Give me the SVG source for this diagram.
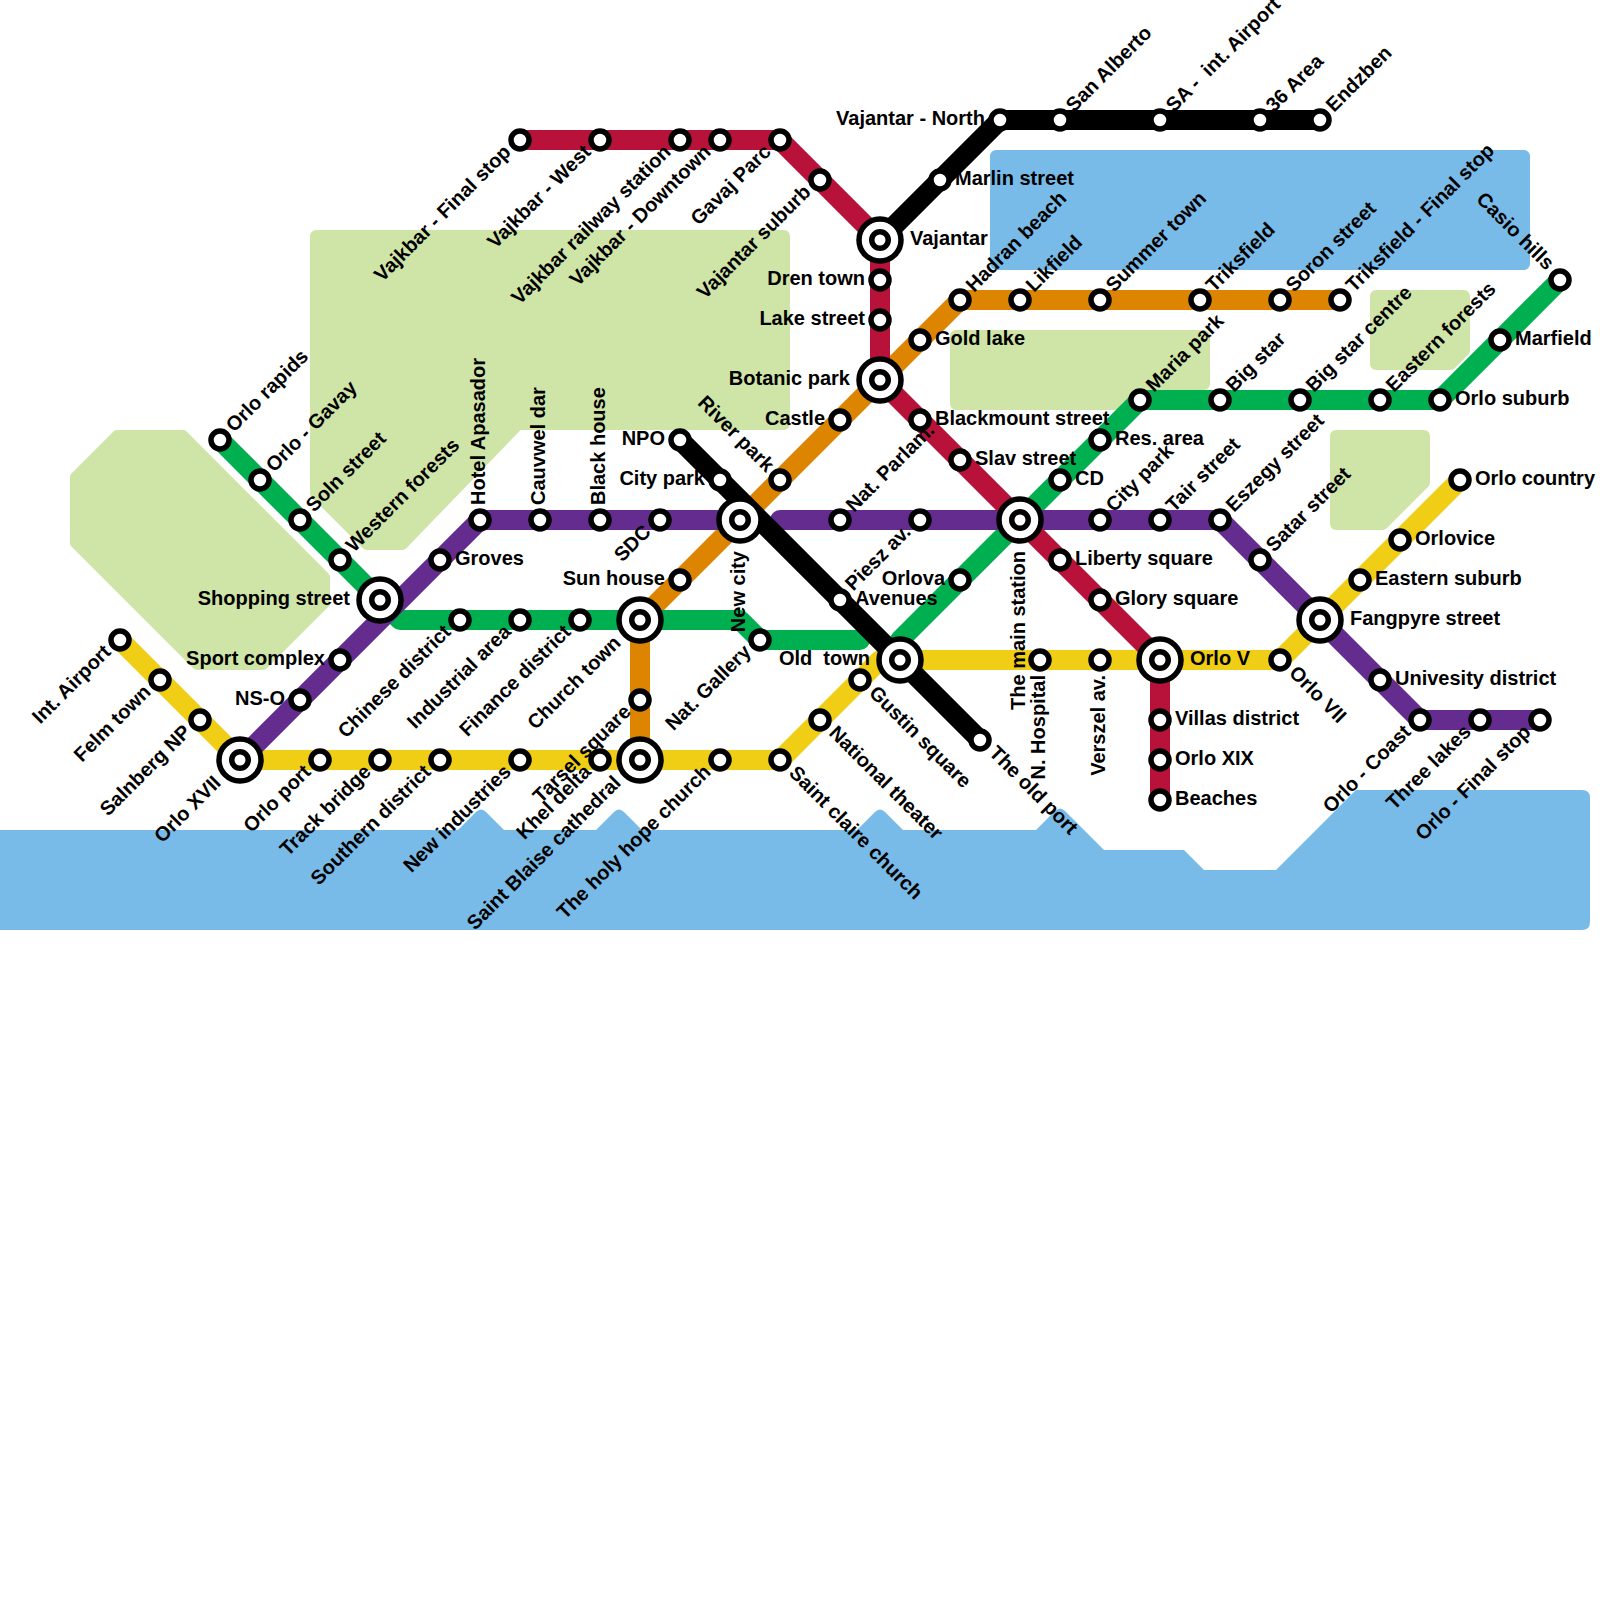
<svg xmlns="http://www.w3.org/2000/svg" width="1600" height="1600" viewBox="0 0 1600 1600">
<style>
.park{fill:#cfe4a7;stroke:#cfe4a7;stroke-width:12;stroke-linejoin:round}
.park2{fill:#cfe4a7;stroke:#cfe4a7;stroke-width:10;stroke-linejoin:round}
.water{fill:#78bbe8;stroke:#78bbe8;stroke-width:12;stroke-linejoin:round}
.water2{fill:#78bbe8}
.l{fill:none;stroke-width:20;stroke-linecap:round;stroke-linejoin:round}
.s{fill:#fff;stroke:#000;stroke-width:5.5}
text{font-family:"Liberation Sans",Arial,sans-serif;font-size:20px;font-weight:bold;fill:#000;white-space:pre}
.e{text-anchor:end}
</style>
<rect width="1600" height="1600" fill="#fff"/>
<g id="background">
<polygon class="park2" points="75,477 117,435 183,435 325,577 325,603 263,665 197,665 75,543"/>
<polygon class="park" points="316,236 784,236 784,424 518,424 402,544 367,544 316,493"/>
<polygon class="park" points="956,336 1204,336 1204,384 1148,384 1128,404 956,404"/>
<polygon class="park" points="1376,296 1464,296 1464,350.5 1450.5,364 1376,364"/>
<polygon class="park" points="1336,436 1424,436 1424,482.5 1382.5,524 1336,524"/>
<rect class="water" x="996" y="156" width="528" height="108"/>
<path class="water2" d="M0,830H458L476,812Q481,807 486,812L504,830H596L614,812Q619,807 624,812L642,830H857L875,812Q880,807 885,812L903,830H1036L1055,811Q1060,806 1065,811L1104,850H1184L1204,870H1276L1356,790H1582Q1590,790 1590,798V922Q1590,930 1582,930H0Z"/>
</g>
<g id="connectors">
<path class="l" stroke="#dd8500" d="M1340,300H960L640,620V760"/>
<path class="l" stroke="#f0ce15" d="M120,640L240,760H780L880,660H1280L1460,480"/>
<path class="l" stroke="#00b050" d="M220,440L400,620H740L760,640H860M900,640L1140,400H1440L1560,280"/>
<path class="l" stroke="#652c90" d="M240,760L480,520H740M780,520H1220L1420,720H1540"/>
<path class="l" stroke="#b9123a" d="M520,140H780L880,240V380L1160,660V800"/>
<path class="l" stroke="#000" d="M880,240L1000,120H1320M680,440L980,740"/>
</g>
<g id="stations">
<g id="n-int-airport"><circle class="s" cx="120" cy="640" r="9"/><text class="e" transform="translate(112,653) rotate(-45)">Int. Airport</text></g>
<g id="n-felm-town"><circle class="s" cx="160" cy="680" r="9"/><text class="e" transform="translate(152,693) rotate(-45)">Felm town</text></g>
<g id="n-salnberg-np"><circle class="s" cx="200" cy="720" r="9"/><text class="e" transform="translate(192,733) rotate(-45)">Salnberg NP</text></g>
<g id="n-orlo-xvii"><circle class="s" cx="240" cy="760" r="21"/><circle class="s" cx="240" cy="760" r="8.25"/><text class="e" transform="translate(222,784) rotate(-45)">Orlo XVII</text></g>
<g id="n-orlo-port"><circle class="s" cx="320" cy="760" r="9"/><text class="e" transform="translate(312,773) rotate(-45)">Orlo port</text></g>
<g id="n-track-bridge"><circle class="s" cx="380" cy="760" r="9"/><text class="e" transform="translate(372,773) rotate(-45)">Track bridge</text></g>
<g id="n-southern-district"><circle class="s" cx="440" cy="760" r="9"/><text class="e" transform="translate(432,773) rotate(-45)">Southern district</text></g>
<g id="n-new-industries"><circle class="s" cx="520" cy="760" r="9"/><text class="e" transform="translate(512,773) rotate(-45)">New industries</text></g>
<g id="n-khel-delta"><circle class="s" cx="600" cy="760" r="9"/><text class="e" transform="translate(592,773) rotate(-45)">Khel delta</text></g>
<g id="n-saint-blaise"><circle class="s" cx="640" cy="760" r="21"/><circle class="s" cx="640" cy="760" r="8.25"/><text class="e" transform="translate(622,784) rotate(-45)">Saint Blaise cathedral</text></g>
<g id="n-holy-hope"><circle class="s" cx="720" cy="760" r="9"/><text class="e" transform="translate(712,773) rotate(-45)">The holy hope church</text></g>
<g id="n-saint-claire"><circle class="s" cx="780" cy="760" r="9"/><text transform="translate(788,774) rotate(45)">Saint claire church</text></g>
<g id="n-national-theater"><circle class="s" cx="820" cy="720" r="9"/><text transform="translate(828,734) rotate(45)">National theater</text></g>
<g id="n-gustin-square"><circle class="s" cx="860" cy="680" r="9"/><text transform="translate(868,694) rotate(45)">Gustin square</text></g>
<g id="n-old-town"><circle class="s" cx="900" cy="660" r="21"/><circle class="s" cx="900" cy="660" r="8.25"/><text class="e" x="870" y="665">Old  town</text></g>
<g id="n-n-hospital"><circle class="s" cx="1040" cy="660" r="9"/><text class="e" transform="translate(1045,675) rotate(-90)">N. Hospital</text></g>
<g id="n-verszel-av"><circle class="s" cx="1100" cy="660" r="9"/><text class="e" transform="translate(1105,675) rotate(-90)">Verszel av.</text></g>
<g id="n-orlo-v"><circle class="s" cx="1160" cy="660" r="21"/><circle class="s" cx="1160" cy="660" r="8.25"/><text x="1190" y="665">Orlo V</text></g>
<g id="n-orlo-vii"><circle class="s" cx="1280" cy="660" r="9"/><text transform="translate(1288,674) rotate(45)">Orlo VII</text></g>
<g id="n-fangpyre"><circle class="s" cx="1320" cy="620" r="21"/><circle class="s" cx="1320" cy="620" r="8.25"/><text x="1350" y="625">Fangpyre street</text></g>
<g id="n-eastern-suburb"><circle class="s" cx="1360" cy="580" r="9"/><text x="1375" y="585">Eastern suburb</text></g>
<g id="n-orlovice"><circle class="s" cx="1400" cy="540" r="9"/><text x="1415" y="545">Orlovice</text></g>
<g id="n-orlo-country"><circle class="s" cx="1460" cy="480" r="9"/><text x="1475" y="485">Orlo country</text></g>
<g id="n-ns-o"><circle class="s" cx="300" cy="700" r="9"/><text class="e" x="285" y="705">NS-O</text></g>
<g id="n-sport-complex"><circle class="s" cx="340" cy="660" r="9"/><text class="e" x="325" y="665">Sport complex</text></g>
<g id="n-shopping-street"><circle class="s" cx="380" cy="600" r="21"/><circle class="s" cx="380" cy="600" r="8.25"/><text class="e" x="350" y="605">Shopping street</text></g>
<g id="n-groves"><circle class="s" cx="440" cy="560" r="9"/><text x="455" y="565">Groves</text></g>
<g id="n-hotel-apasador"><circle class="s" cx="480" cy="520" r="9"/><text transform="translate(485,505) rotate(-90)">Hotel Apasador</text></g>
<g id="n-cauvwel-dar"><circle class="s" cx="540" cy="520" r="9"/><text transform="translate(545,505) rotate(-90)">Cauvwel dar</text></g>
<g id="n-black-house"><circle class="s" cx="600" cy="520" r="9"/><text transform="translate(605,505) rotate(-90)">Black house</text></g>
<g id="n-sdc"><circle class="s" cx="660" cy="520" r="9"/><text class="e" transform="translate(652,533) rotate(-45)">SDC</text></g>
<g id="n-new-city"><circle class="s" cx="740" cy="520" r="21"/><circle class="s" cx="740" cy="520" r="8.25"/><text class="e" transform="translate(745,551) rotate(-90)">New city</text></g>
<g id="n-nat-parlam"><circle class="s" cx="840" cy="520" r="9"/><text transform="translate(854,513) rotate(-45)">Nat. Parlam.</text></g>
<g id="n-piesz-av"><circle class="s" cx="920" cy="520" r="9"/><text class="e" transform="translate(912,533) rotate(-45)">Piesz av.</text></g>
<g id="n-main-station"><circle class="s" cx="1020" cy="520" r="21"/><circle class="s" cx="1020" cy="520" r="8.25"/><text class="e" transform="translate(1025,551) rotate(-90)">The main station</text></g>
<g id="n-city-park-2"><circle class="s" cx="1100" cy="520" r="9"/><text transform="translate(1114,513) rotate(-45)">City park</text></g>
<g id="n-tair-street"><circle class="s" cx="1160" cy="520" r="9"/><text transform="translate(1174,513) rotate(-45)">Tair street</text></g>
<g id="n-eszegy-street"><circle class="s" cx="1220" cy="520" r="9"/><text transform="translate(1234,513) rotate(-45)">Eszegy street</text></g>
<g id="n-satar-street"><circle class="s" cx="1260" cy="560" r="9"/><text transform="translate(1274,553) rotate(-45)">Satar street</text></g>
<g id="n-univesity"><circle class="s" cx="1380" cy="680" r="9"/><text x="1395" y="685">Univesity district</text></g>
<g id="n-orlo-coast"><circle class="s" cx="1420" cy="720" r="9"/><text class="e" transform="translate(1412,733) rotate(-45)">Orlo - Coast</text></g>
<g id="n-three-lakes"><circle class="s" cx="1480" cy="720" r="9"/><text class="e" transform="translate(1472,733) rotate(-45)">Three lakes</text></g>
<g id="n-orlo-final"><circle class="s" cx="1540" cy="720" r="9"/><text class="e" transform="translate(1532,733) rotate(-45)">Orlo - Final stop</text></g>
<g id="n-orlo-rapids"><circle class="s" cx="220" cy="440" r="9"/><text transform="translate(234,433) rotate(-45)">Orlo rapids</text></g>
<g id="n-orlo-gavay"><circle class="s" cx="260" cy="480" r="9"/><text transform="translate(274,473) rotate(-45)">Orlo - Gavay</text></g>
<g id="n-soln-street"><circle class="s" cx="300" cy="520" r="9"/><text transform="translate(314,513) rotate(-45)">Soln street</text></g>
<g id="n-western-forests"><circle class="s" cx="340" cy="560" r="9"/><text transform="translate(354,553) rotate(-45)">Western forests</text></g>
<g id="n-chinese-district"><circle class="s" cx="460" cy="620" r="9"/><text class="e" transform="translate(452,633) rotate(-45)">Chinese district</text></g>
<g id="n-industrial-area"><circle class="s" cx="520" cy="620" r="9"/><text class="e" transform="translate(512,633) rotate(-45)">Industrial area</text></g>
<g id="n-finance-district"><circle class="s" cx="580" cy="620" r="9"/><text class="e" transform="translate(572,633) rotate(-45)">Finance district</text></g>
<g id="n-church-town"><circle class="s" cx="640" cy="620" r="21"/><circle class="s" cx="640" cy="620" r="8.25"/><text class="e" transform="translate(622,644) rotate(-45)">Church town</text></g>
<g id="n-nat-gallery"><circle class="s" cx="760" cy="640" r="9"/><text class="e" transform="translate(752,653) rotate(-45)">Nat. Gallery</text></g>
<g id="n-orlova"><circle class="s" cx="960" cy="580" r="9"/><text class="e" x="945" y="585">Orlova</text></g>
<g id="n-cd"><circle class="s" cx="1060" cy="480" r="9"/><text x="1075" y="485">CD</text></g>
<g id="n-res-area"><circle class="s" cx="1100" cy="440" r="9"/><text x="1115" y="445">Res. area</text></g>
<g id="n-maria-park"><circle class="s" cx="1140" cy="400" r="9"/><text transform="translate(1154,393) rotate(-45)">Maria park</text></g>
<g id="n-big-star"><circle class="s" cx="1220" cy="400" r="9"/><text transform="translate(1234,393) rotate(-45)">Big star</text></g>
<g id="n-big-star-centre"><circle class="s" cx="1300" cy="400" r="9"/><text transform="translate(1314,393) rotate(-45)">Big star centre</text></g>
<g id="n-eastern-forests"><circle class="s" cx="1380" cy="400" r="9"/><text transform="translate(1394,393) rotate(-45)">Eastern forests</text></g>
<g id="n-orlo-suburb"><circle class="s" cx="1440" cy="400" r="9"/><text x="1455" y="405">Orlo suburb</text></g>
<g id="n-marfield"><circle class="s" cx="1500" cy="340" r="9"/><text x="1515" y="345">Marfield</text></g>
<g id="n-casio-hills"><circle class="s" cx="1560" cy="280" r="9"/><text class="e" transform="translate(1546,271) rotate(45)">Casio hills</text></g>
<g id="n-vajkbar-final"><circle class="s" cx="520" cy="140" r="9"/><text class="e" transform="translate(512,153) rotate(-45)">Vajkbar - Final stop</text></g>
<g id="n-vajkbar-west"><circle class="s" cx="600" cy="140" r="9"/><text class="e" transform="translate(592,153) rotate(-45)">Vajkbar - West</text></g>
<g id="n-vajkbar-railway"><circle class="s" cx="680" cy="140" r="9"/><text class="e" transform="translate(672,153) rotate(-45)">Vajkbar railway station</text></g>
<g id="n-vajkbar-downtown"><circle class="s" cx="720" cy="140" r="9"/><text class="e" transform="translate(712,153) rotate(-45)">Vajkbar - Downtown</text></g>
<g id="n-gavaj-parc"><circle class="s" cx="780" cy="140" r="9"/><text class="e" transform="translate(772,153) rotate(-45)">Gavaj Parc</text></g>
<g id="n-vajantar-suburb"><circle class="s" cx="820" cy="180" r="9"/><text class="e" transform="translate(812,193) rotate(-45)">Vajantar suburb</text></g>
<g id="n-vajantar"><circle class="s" cx="880" cy="240" r="21"/><circle class="s" cx="880" cy="240" r="8.25"/><text x="910" y="245">Vajantar</text></g>
<g id="n-dren-town"><circle class="s" cx="880" cy="280" r="9"/><text class="e" x="865" y="285">Dren town</text></g>
<g id="n-lake-street"><circle class="s" cx="880" cy="320" r="9"/><text class="e" x="865" y="325">Lake street</text></g>
<g id="n-botanic-park"><circle class="s" cx="880" cy="380" r="21"/><circle class="s" cx="880" cy="380" r="8.25"/><text class="e" x="850" y="385">Botanic park</text></g>
<g id="n-blackmount"><circle class="s" cx="920" cy="420" r="9"/><text x="935" y="425">Blackmount street</text></g>
<g id="n-slav-street"><circle class="s" cx="960" cy="460" r="9"/><text x="975" y="465">Slav street</text></g>
<g id="n-liberty-square"><circle class="s" cx="1060" cy="560" r="9"/><text x="1075" y="565">Liberty square</text></g>
<g id="n-glory-square"><circle class="s" cx="1100" cy="600" r="9"/><text x="1115" y="605">Glory square</text></g>
<g id="n-villas-district"><circle class="s" cx="1160" cy="720" r="9"/><text x="1175" y="725">Villas district</text></g>
<g id="n-orlo-xix"><circle class="s" cx="1160" cy="760" r="9"/><text x="1175" y="765">Orlo XIX</text></g>
<g id="n-beaches"><circle class="s" cx="1160" cy="800" r="9"/><text x="1175" y="805">Beaches</text></g>
<g id="n-triksfield-final"><circle class="s" cx="1340" cy="300" r="9"/><text transform="translate(1354,293) rotate(-45)">Triksfield - Final stop</text></g>
<g id="n-soron-street"><circle class="s" cx="1280" cy="300" r="9"/><text transform="translate(1294,293) rotate(-45)">Soron street</text></g>
<g id="n-triksfield"><circle class="s" cx="1200" cy="300" r="9"/><text transform="translate(1214,293) rotate(-45)">Triksfield</text></g>
<g id="n-summer-town"><circle class="s" cx="1100" cy="300" r="9"/><text transform="translate(1114,293) rotate(-45)">Summer town</text></g>
<g id="n-likfield"><circle class="s" cx="1020" cy="300" r="9"/><text transform="translate(1034,293) rotate(-45)">Likfield</text></g>
<g id="n-hadran-beach"><circle class="s" cx="960" cy="300" r="9"/><text transform="translate(974,293) rotate(-45)">Hadran beach</text></g>
<g id="n-gold-lake"><circle class="s" cx="920" cy="340" r="9"/><text x="935" y="345">Gold lake</text></g>
<g id="n-castle"><circle class="s" cx="840" cy="420" r="9"/><text class="e" x="825" y="425">Castle</text></g>
<g id="n-river-park"><circle class="s" cx="780" cy="480" r="9"/><text class="e" transform="translate(766,473) rotate(45)">River park</text></g>
<g id="n-sun-house"><circle class="s" cx="680" cy="580" r="9"/><text class="e" x="665" y="585">Sun house</text></g>
<g id="n-tarsel-square"><circle class="s" cx="640" cy="700" r="9"/><text class="e" transform="translate(632,713) rotate(-45)">Tarsel square</text></g>
<g id="n-marlin-street"><circle class="s" cx="940" cy="180" r="9"/><text x="955" y="185">Marlin street</text></g>
<g id="n-vajantar-north"><circle class="s" cx="1000" cy="120" r="9"/><text class="e" x="985" y="125">Vajantar - North</text></g>
<g id="n-san-alberto"><circle class="s" cx="1060" cy="120" r="9"/><text transform="translate(1074,113) rotate(-45)">San Alberto</text></g>
<g id="n-sa-airport"><circle class="s" cx="1160" cy="120" r="9"/><text transform="translate(1174,113) rotate(-45)">SA -  int. Airport</text></g>
<g id="n-36-area"><circle class="s" cx="1260" cy="120" r="9"/><text transform="translate(1274,113) rotate(-45)">36 Area</text></g>
<g id="n-endzben"><circle class="s" cx="1320" cy="120" r="9"/><text transform="translate(1334,113) rotate(-45)">Endzben</text></g>
<g id="n-npo"><circle class="s" cx="680" cy="440" r="9"/><text class="e" x="665" y="445">NPO</text></g>
<g id="n-city-park"><circle class="s" cx="720" cy="480" r="9"/><text class="e" x="705" y="485">City park</text></g>
<g id="n-avenues"><circle class="s" cx="840" cy="600" r="9"/><text x="855" y="605">Avenues</text></g>
<g id="n-old-port"><circle class="s" cx="980" cy="740" r="9"/><text transform="translate(988,754) rotate(45)">The old port</text></g>
</g>
</svg>
